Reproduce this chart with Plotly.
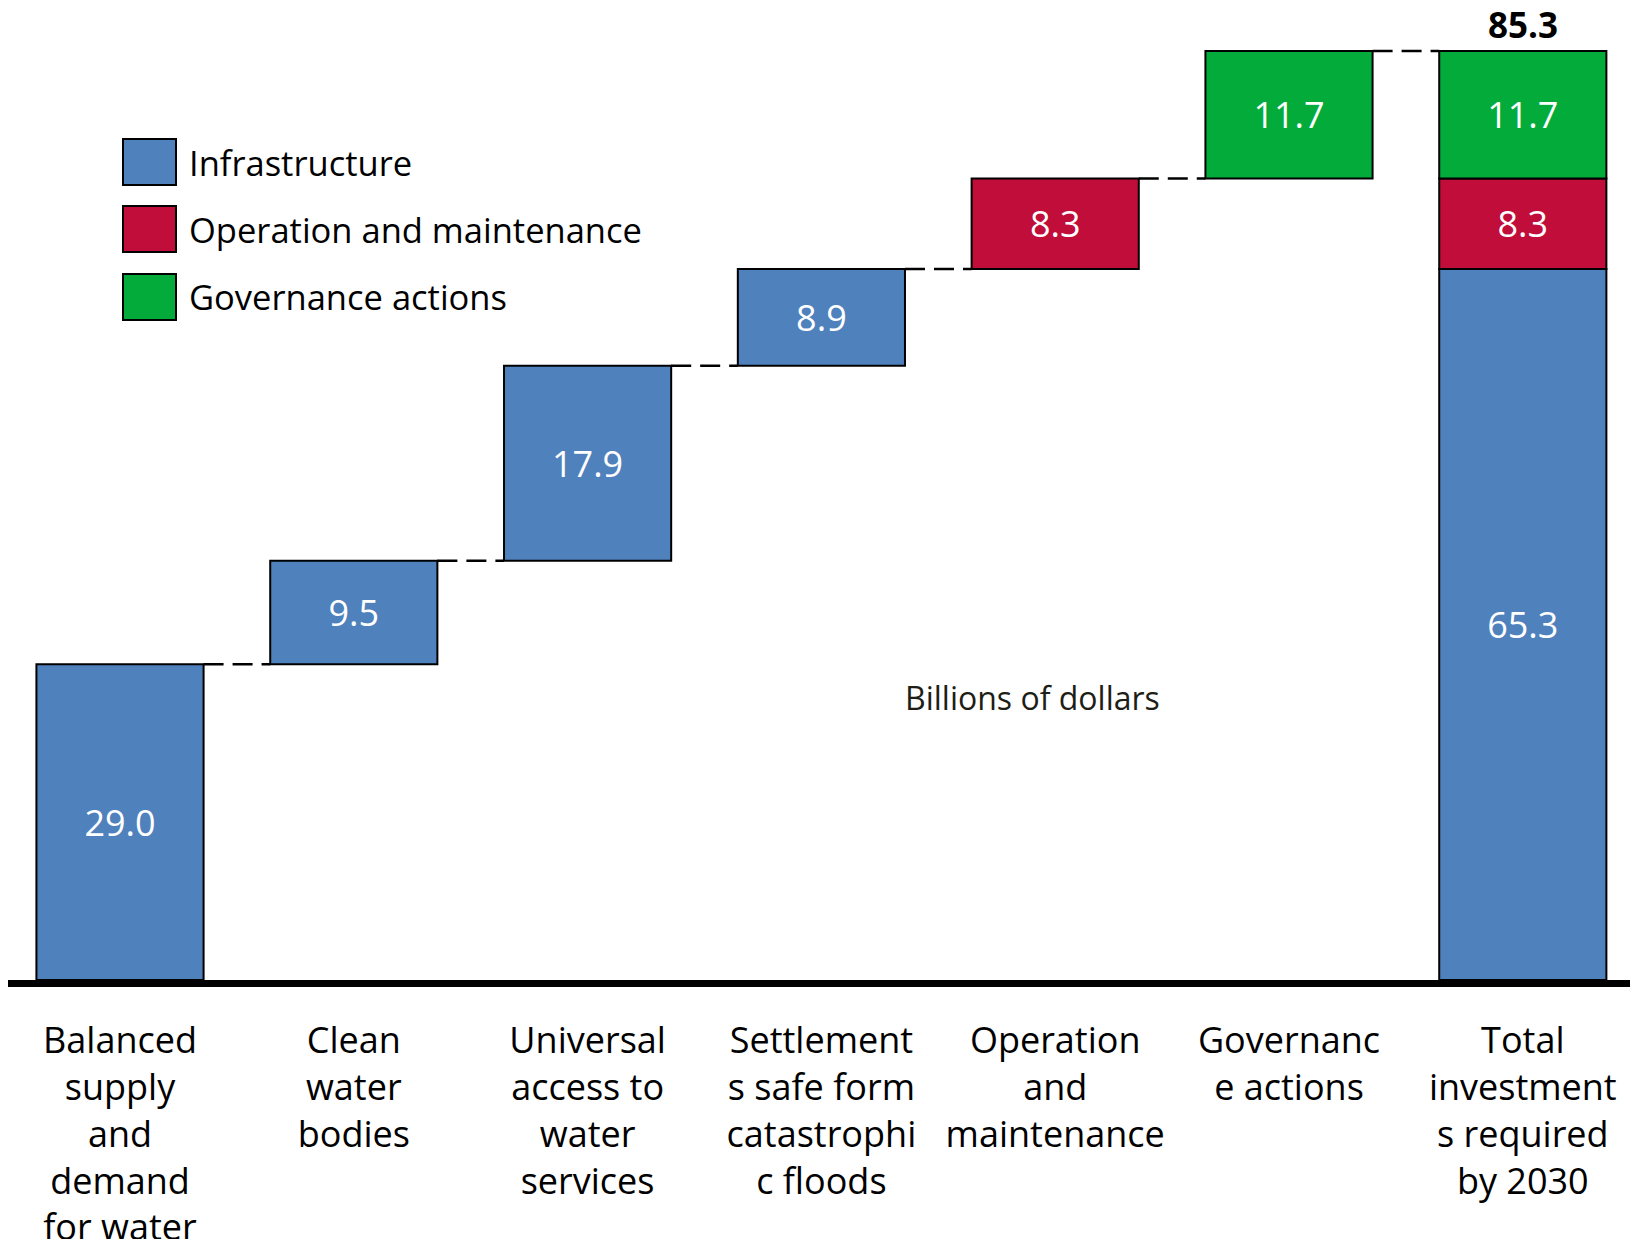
import numpy as np
import plotly.graph_objects as go

# data
categories = [
    'Balanced<br>supply<br>and<br>demand<br>for water',
    'Clean<br>water<br>bodies',
    'Universal<br>access to<br>water<br>services',
    'Settlement<br>s safe form<br>catastrophi<br>c floods',
    'Operation<br>and<br>maintenance',
    'Governanc<br>e actions',
    'Total<br>investment<br>s required<br>by 2030',
]
step_values = [29.0, 9.5, 17.9, 8.9, 8.3, 11.7]
step_groups = ['Infrastructure', 'Infrastructure', 'Infrastructure', 'Infrastructure',
               'Operation and maintenance', 'Governance actions']
groups = ['Infrastructure', 'Operation and maintenance', 'Governance actions']
total_parts = [65.3, 8.3, 11.7]
total_value = 85.3

colors = {
    'Infrastructure': 'rgb(79,129,189)',
    'Operation and maintenance': 'rgb(192,13,58)',
    'Governance actions': 'rgb(3,172,58)',
}

# the page body has an 8px margin, so the figure is made smaller to fit the window
OFF = 8
W, H = 1638 - 2 * OFF, 1247 - 2 * OFF
L, R, T = 0, 0, 0
plot_h = 972
B = H - T - plot_h
unit_px = 233.8          # pixels per category
first_center = 112       # x of the first bar centre inside the figure
bar_w = 0.715
font = 'Open Sans'

cum = np.cumsum(step_values)
bases = np.concatenate([[0], cum[:-1]])
total_bases = np.concatenate([[0], np.cumsum(total_parts)[:-1]])

fig = go.Figure()

for gi, g in enumerate(groups):
    xs, ys, bs = [], [], []
    for i, sg in enumerate(step_groups):
        if sg == g:
            xs.append(i)
            ys.append(step_values[i])
            bs.append(bases[i])
    xs.append(len(step_values))
    ys.append(total_parts[gi])
    bs.append(total_bases[gi])
    fig.add_trace(go.Bar(
        x=xs, y=ys, base=bs, width=bar_w, name=g,
        marker=dict(color=colors[g], line=dict(color='black', width=2)),
        text=['{:.1f}'.format(v) for v in ys],
        textposition='inside', insidetextanchor='middle',
        textfont=dict(family=font, size=36, color='white'),
        constraintext='none', showlegend=False,
    ))

# dashed connectors
for i in range(len(step_values)):
    fig.add_trace(go.Scatter(
        x=[i + bar_w / 2, i + 1 - bar_w / 2], y=[cum[i], cum[i]],
        mode='lines', line=dict(color='black', width=2.5, dash='20px,9px'),
        showlegend=False, hoverinfo='skip',
    ))

x0 = -first_center / unit_px
fig.update_layout(
    width=W, height=H,
    margin=dict(l=L, r=R, t=T, b=B, pad=0, autoexpand=False),
    plot_bgcolor='white', paper_bgcolor='white',
    barmode='overlay',
    showlegend=False,
    xaxis=dict(
        range=[x0, x0 + (W - L - R) / unit_px],
        tickvals=list(range(len(categories))),
        ticktext=categories,
        ticks='', showgrid=False, zeroline=False,
        showline=True, linecolor='black', linewidth=7,
        tickfont=dict(family=font, size=36, color='black'),
        ticklabelstandoff=23, automargin=False,
    ),
    yaxis=dict(range=[0, plot_h / 10.89], visible=False, fixedrange=True, automargin=False),
)


# page pixel -> paper coordinates
def px_x(x):
    return (x - OFF - L) / (W - L - R)


def px_y(y):
    return (OFF + T + plot_h - y) / plot_h


annotations = []
# legend drawn by hand
legend_tops = [139, 206, 274]
for g, top in zip(groups, legend_tops):
    fig.add_shape(type='rect', xref='paper', yref='paper',
                  x0=px_x(123), x1=px_x(176), y0=px_y(top + 46), y1=px_y(top),
                  fillcolor=colors[g], line=dict(color='black', width=2))
    annotations.append(dict(xref='paper', yref='paper', x=px_x(187), y=px_y(top + 23),
                            xanchor='left', yanchor='middle', text=g, showarrow=False,
                            font=dict(family=font, size=34.5, color='black')))

# total label
annotations.append(dict(x=len(step_values), y=total_value, yanchor='bottom', yshift=1,
                        text='<b>{:.1f}</b>'.format(total_value), showarrow=False,
                        font=dict(family=font, size=35, color='black')))

# units note
annotations.append(dict(xref='paper', yref='paper', x=px_x(1032), y=px_y(697),
                        xanchor='center', yanchor='middle', text='Billions of dollars',
                        showarrow=False, font=dict(family=font, size=32, color='rgb(30,30,22)')))

fig.update_layout(annotations=annotations)

fig.write_html('out.html')
